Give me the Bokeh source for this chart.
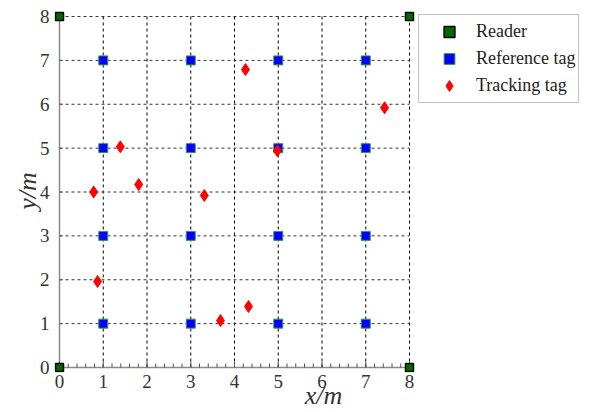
from bokeh.plotting import figure
from bokeh.models import Legend, LegendItem, Range1d, FixedTicker, LinearAxis
from bokeh.embed import file_html
from bokeh.resources import INLINE

reader_x = [0, 0, 8, 8]
reader_y = [0, 8, 0, 8]
ref_x = [1, 3, 5, 7, 1, 3, 5, 7, 1, 3, 5, 7, 1, 3, 5, 7]
ref_y = [7, 7, 7, 7, 5, 5, 5, 5, 3, 3, 3, 3, 1, 1, 1, 1]
track_x = [0.78, 0.87, 1.39, 1.81, 3.31, 3.68, 4.32, 4.25, 4.98, 7.43]
track_y = [4.0, 1.96, 5.03, 4.17, 3.92, 1.07, 1.39, 6.79, 4.94, 5.92]
ticks = [0, 1, 2, 3, 4, 5, 6, 7, 8]
minor = [i / 5 for i in range(41)]

FONT = "Liberation Serif"
SX = 43.75
SY = 43.875
LO, HI = ticks[0], ticks[-1]
W, H = 592, 412

p = figure(width=W, height=H, output_backend="svg", toolbar_location=None,
           x_range=Range1d(LO - 5 / SX, HI + 183 / SX), y_range=Range1d(LO - 5 / SY, HI + 7 / SY),
           min_border_left=54, min_border_right=0, min_border_top=9, min_border_bottom=40,
           x_axis_type=None, y_axis_type=None)
p.outline_line_color = None
p.xgrid.visible = False
p.ygrid.visible = False


def style(ax):
    ax.axis_line_color = None
    ax.major_tick_line_color = None
    ax.minor_tick_line_color = None
    ax.major_label_text_font = FONT
    ax.major_label_text_font_size = "19px"
    ax.major_label_text_color = "#333333"
    ax.axis_label_text_font = FONT
    ax.axis_label_text_font_size = "26px"
    ax.axis_label_text_font_style = "italic"
    ax.axis_label_text_color = "#333333"
    ax.axis_label_text_line_height = 0.8


xax = LinearAxis(ticker=FixedTicker(ticks=ticks))
style(xax)
xax.major_label_standoff = -4
p.add_layout(xax, "below")

# label-only axis: its bounds put "x/m" where the reference has it
xlab = LinearAxis(ticker=FixedTicker(ticks=[]), bounds=(0, 7.3))
style(xlab)
xlab.axis_label = "x/m"
xlab.axis_label_standoff = -10
p.add_layout(xlab, "below")

yax = LinearAxis(ticker=FixedTicker(ticks=ticks))
style(yax)
yax.major_label_standoff = -1
yax.axis_label = "y/m"
yax.axis_label_standoff = -5
p.add_layout(yax, "left")

# dashed grid confined to the 0..8 square
p.segment(x0=ticks, y0=[LO] * len(ticks), x1=ticks, y1=[HI] * len(ticks),
          line_color="black", line_dash="3 3", line_width=1)
p.segment(x0=[LO] * len(ticks), y0=ticks, x1=[HI] * len(ticks), y1=ticks,
          line_color="#333333", line_dash="3 3", line_width=1)

# axis lines through the origin and inward ticks
p.segment(x0=[LO], y0=[LO], x1=[HI], y1=[LO], line_color="#8a8a8a", line_width=1.5)
p.segment(x0=[LO], y0=[LO], x1=[LO], y1=[HI], line_color="#8a8a8a", line_width=1.5)
p.segment(x0=minor, y0=[LO] * len(minor), x1=minor, y1=[LO + 4 / SY] * len(minor),
          line_color="#555555", line_width=1)
p.segment(x0=ticks, y0=[LO] * len(ticks), x1=ticks, y1=[LO + 6 / SY] * len(ticks),
          line_color="#555555", line_width=1)
p.segment(x0=[LO] * len(ticks), y0=ticks, x1=[LO + 3 / SX] * len(ticks), y1=ticks,
          line_color="#555555", line_width=1)

r_ref = p.scatter(ref_x, ref_y, marker="square", size=9, fill_color="#0000ff",
                  line_color="#3a9a3a", line_width=1)
r_track = p.scatter(track_x, track_y, marker="diamond", size=12, fill_color="#ff0000",
                    line_color="#ff0000")
r_reader = p.scatter(reader_x, reader_y, marker="square", size=8, fill_color="#006a00",
                     line_color="black", line_width=1.5)

legend = Legend(items=[LegendItem(label="Reader", renderers=[r_reader]),
                       LegendItem(label="Reference tag", renderers=[r_ref]),
                       LegendItem(label="Tracking tag", renderers=[r_track])],
                location=(364, 269))
legend.label_text_font = FONT
legend.label_text_font_size = "18px"
legend.label_text_color = "#222222"
legend.border_line_color = "#888888"
legend.border_line_width = 1.5
legend.background_fill_color = "white"
legend.background_fill_alpha = 1
legend.spacing = 0
legend.padding = 3
legend.margin = 0
legend.glyph_width = 54
legend.glyph_height = 27
legend.label_height = 27
legend.label_standoff = 0
legend.label_width = 90
p.add_layout(legend, "center")

open("out.html", "w").write(file_html(p, INLINE))
